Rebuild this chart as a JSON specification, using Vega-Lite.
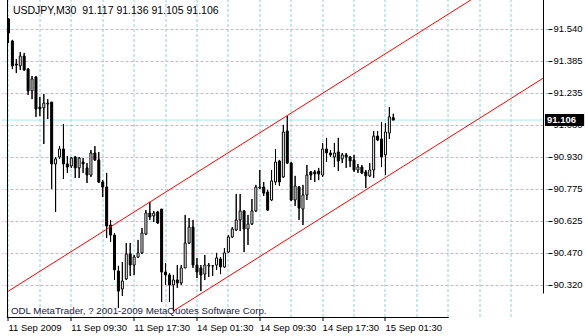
{
  "$schema": "https://vega.github.io/schema/vega-lite/v6.json",
  "width": 546,
  "height": 317,
  "autosize": {"type": "none"},
  "padding": {"left": 2, "top": 0, "right": 38, "bottom": 19},
  "background": "white",
  "config": {
    "view": {"stroke": null},
    "font": "Liberation Sans",
    "axis": {"labelFont": "Liberation Sans", "labelFontSize": 9.5, "labelColor": "#000000", "tickColor": "#000000", "domainColor": "#000000", "labelFontWeight": "normal"}
  },
  "datasets": {
    "bars": [
      {"i":0,"o":91.588,"h":91.592,"l":91.473,"c":91.521},
      {"i":1,"o":91.483,"h":91.488,"l":91.349,"c":91.364},
      {"i":2,"o":91.373,"h":91.397,"l":91.330,"c":91.368},
      {"i":3,"o":91.364,"h":91.430,"l":91.345,"c":91.411},
      {"i":4,"o":91.411,"h":91.426,"l":91.340,"c":91.345},
      {"i":5,"o":91.349,"h":91.354,"l":91.226,"c":91.245},
      {"i":6,"o":91.245,"h":91.316,"l":91.206,"c":91.302},
      {"i":7,"o":91.311,"h":91.316,"l":91.121,"c":91.159},
      {"i":8,"o":91.168,"h":91.216,"l":91.125,"c":91.159},
      {"i":9,"o":91.164,"h":91.230,"l":90.992,"c":91.187},
      {"i":10,"o":91.183,"h":91.206,"l":91.111,"c":91.187},
      {"i":11,"o":91.192,"h":91.192,"l":90.778,"c":90.897},
      {"i":12,"o":90.897,"h":90.930,"l":90.668,"c":90.921},
      {"i":13,"o":90.930,"h":90.982,"l":90.921,"c":90.968},
      {"i":14,"o":90.968,"h":91.087,"l":90.825,"c":90.897},
      {"i":15,"o":90.897,"h":90.935,"l":90.854,"c":90.882},
      {"i":16,"o":90.887,"h":90.930,"l":90.878,"c":90.925},
      {"i":17,"o":90.930,"h":90.935,"l":90.830,"c":90.878},
      {"i":18,"o":90.878,"h":90.930,"l":90.830,"c":90.925},
      {"i":19,"o":90.906,"h":90.925,"l":90.854,"c":90.897},
      {"i":20,"o":90.878,"h":90.901,"l":90.806,"c":90.844},
      {"i":21,"o":90.844,"h":90.963,"l":90.835,"c":90.949},
      {"i":22,"o":90.949,"h":90.982,"l":90.911,"c":90.916},
      {"i":23,"o":90.916,"h":90.954,"l":90.806,"c":90.811},
      {"i":24,"o":90.811,"h":90.820,"l":90.739,"c":90.787},
      {"i":25,"o":90.787,"h":90.854,"l":90.544,"c":90.601},
      {"i":26,"o":90.606,"h":90.630,"l":90.525,"c":90.558},
      {"i":27,"o":90.558,"h":90.568,"l":90.344,"c":90.392},
      {"i":28,"o":90.387,"h":90.411,"l":90.210,"c":90.291},
      {"i":29,"o":90.301,"h":90.430,"l":90.268,"c":90.339},
      {"i":30,"o":90.349,"h":90.520,"l":90.344,"c":90.468},
      {"i":31,"o":90.468,"h":90.520,"l":90.363,"c":90.415},
      {"i":32,"o":90.415,"h":90.463,"l":90.368,"c":90.453},
      {"i":33,"o":90.453,"h":90.535,"l":90.449,"c":90.473},
      {"i":34,"o":90.473,"h":90.592,"l":90.468,"c":90.568},
      {"i":35,"o":90.563,"h":90.677,"l":90.558,"c":90.663},
      {"i":36,"o":90.663,"h":90.716,"l":90.630,"c":90.644},
      {"i":37,"o":90.649,"h":90.673,"l":90.620,"c":90.663},
      {"i":38,"o":90.668,"h":90.673,"l":90.611,"c":90.616},
      {"i":39,"o":90.682,"h":90.682,"l":90.239,"c":90.382},
      {"i":40,"o":90.382,"h":90.425,"l":90.320,"c":90.368},
      {"i":41,"o":90.368,"h":90.377,"l":90.239,"c":90.320},
      {"i":42,"o":90.320,"h":90.368,"l":90.196,"c":90.344},
      {"i":43,"o":90.344,"h":90.415,"l":90.306,"c":90.330},
      {"i":44,"o":90.330,"h":90.415,"l":90.320,"c":90.401},
      {"i":45,"o":90.401,"h":90.654,"l":90.401,"c":90.520},
      {"i":46,"o":90.520,"h":90.639,"l":90.515,"c":90.596},
      {"i":47,"o":90.596,"h":90.630,"l":90.401,"c":90.415},
      {"i":48,"o":90.415,"h":90.449,"l":90.353,"c":90.382},
      {"i":49,"o":90.401,"h":90.415,"l":90.291,"c":90.368},
      {"i":50,"o":90.372,"h":90.463,"l":90.344,"c":90.415},
      {"i":51,"o":90.411,"h":90.425,"l":90.358,"c":90.415},
      {"i":52,"o":90.411,"h":90.415,"l":90.363,"c":90.411},
      {"i":53,"o":90.415,"h":90.473,"l":90.392,"c":90.449},
      {"i":54,"o":90.444,"h":90.453,"l":90.372,"c":90.406},
      {"i":55,"o":90.406,"h":90.496,"l":90.401,"c":90.473},
      {"i":56,"o":90.477,"h":90.558,"l":90.473,"c":90.549},
      {"i":57,"o":90.549,"h":90.596,"l":90.544,"c":90.587},
      {"i":58,"o":90.582,"h":90.754,"l":90.577,"c":90.630},
      {"i":59,"o":90.630,"h":90.754,"l":90.577,"c":90.673},
      {"i":60,"o":90.673,"h":90.677,"l":90.477,"c":90.587},
      {"i":61,"o":90.587,"h":90.654,"l":90.511,"c":90.611},
      {"i":62,"o":90.611,"h":90.730,"l":90.606,"c":90.673},
      {"i":63,"o":90.673,"h":90.797,"l":90.668,"c":90.787},
      {"i":64,"o":90.782,"h":90.868,"l":90.778,"c":90.787},
      {"i":65,"o":90.787,"h":90.811,"l":90.744,"c":90.758},
      {"i":66,"o":90.763,"h":90.773,"l":90.673,"c":90.677},
      {"i":67,"o":90.725,"h":90.868,"l":90.720,"c":90.816},
      {"i":68,"o":90.811,"h":90.968,"l":90.797,"c":90.906},
      {"i":69,"o":90.911,"h":90.916,"l":90.792,"c":90.811},
      {"i":70,"o":90.835,"h":91.083,"l":90.830,"c":91.049},
      {"i":71,"o":91.054,"h":91.125,"l":90.897,"c":90.901},
      {"i":72,"o":90.901,"h":90.906,"l":90.720,"c":90.725},
      {"i":73,"o":90.725,"h":90.840,"l":90.697,"c":90.792},
      {"i":74,"o":90.787,"h":90.792,"l":90.630,"c":90.687},
      {"i":75,"o":90.682,"h":90.797,"l":90.606,"c":90.749},
      {"i":76,"o":90.749,"h":90.892,"l":90.725,"c":90.844},
      {"i":77,"o":90.859,"h":90.863,"l":90.820,"c":90.844},
      {"i":78,"o":90.859,"h":90.868,"l":90.811,"c":90.849},
      {"i":79,"o":90.863,"h":90.878,"l":90.820,"c":90.849},
      {"i":80,"o":90.844,"h":90.997,"l":90.835,"c":90.968},
      {"i":81,"o":90.968,"h":91.021,"l":90.906,"c":90.949},
      {"i":82,"o":90.949,"h":90.963,"l":90.930,"c":90.940},
      {"i":83,"o":90.930,"h":90.997,"l":90.882,"c":90.949},
      {"i":84,"o":90.954,"h":91.021,"l":90.863,"c":90.911},
      {"i":85,"o":90.921,"h":90.949,"l":90.901,"c":90.940},
      {"i":86,"o":90.940,"h":90.949,"l":90.878,"c":90.930},
      {"i":87,"o":90.930,"h":90.935,"l":90.882,"c":90.911},
      {"i":88,"o":90.916,"h":90.940,"l":90.859,"c":90.868},
      {"i":89,"o":90.868,"h":90.897,"l":90.854,"c":90.882},
      {"i":90,"o":90.882,"h":90.892,"l":90.849,"c":90.854},
      {"i":91,"o":90.859,"h":90.868,"l":90.782,"c":90.840},
      {"i":92,"o":90.840,"h":90.901,"l":90.835,"c":90.868},
      {"i":93,"o":90.868,"h":91.054,"l":90.830,"c":91.030},
      {"i":94,"o":91.030,"h":91.054,"l":91.006,"c":91.011},
      {"i":95,"o":91.016,"h":91.097,"l":90.882,"c":90.930},
      {"i":96,"o":90.940,"h":91.092,"l":90.844,"c":91.049},
      {"i":97,"o":91.044,"h":91.168,"l":91.016,"c":91.121},
      {"i":98,"o":91.117,"h":91.136,"l":91.105,"c":91.106}
    ],
    "channel": [
      {"line":"upper","i":0,"p":90.291},
      {"line":"upper","i":136.125,"p":91.895},
      {"line":"lower","i":42,"p":90.196},
      {"line":"lower","i":136.125,"p":91.305}
    ],
    "one": [{}]
  },
  "layer": [
    {
      "data": {"name": "bars"},
      "mark": {"type": "rule", "color": "#000000", "strokeWidth": 1},
      "encoding": {
        "x": {"field": "i", "type": "quantitative",
              "scale": {"domain": [-0.375, 136.125], "nice": false, "zero": false},
              "axis": {"orient": "top", "grid": true, "values": [0,8,16,24,32,40,48,56,64,72,80,88,96,104,112,120,128],
                       "gridDash": [3,2], "gridColor": "#92d2d2", "gridOpacity": 1, "labels": false, "ticks": false, "domain": false, "title": null, "translate": 0}},
        "y": {"field": "l", "type": "quantitative",
              "scale": {"domain": [90.1675, 91.6782], "nice": false, "zero": false},
              "axis": {"orient": "right", "values": [90.32, 90.4725, 90.625, 90.7775, 90.93, 91.0825, 91.235, 91.3875, 91.54],
                       "labelExpr": "format(floor(datum.value*200+0.01)/200, '.3f')",
                       "grid": true, "gridDash": [3,2], "gridColor": "#92d2d2", "gridOpacity": 1,
                       "tickSize": 4, "labelPadding": 1, "labelAlign": "left", "labelBaseline": "middle", "title": null, "domain": false}},
        "y2": {"field": "h"}
      }
    },
    {
      "data": {"values": [{"price": 91.106}]},
      "mark": {"type": "rule", "color": "#a8e8ee", "strokeWidth": 1},
      "encoding": {
        "y": {"field": "price", "type": "quantitative", "axis": null}
      }
    },
    {
      "data": {"name": "bars"},
      "mark": {"type": "rule", "color": "#000000", "strokeWidth": 1},
      "encoding": {
        "x": {"field": "i", "type": "quantitative", "axis": null},
        "y": {"field": "l", "type": "quantitative", "axis": null},
        "y2": {"field": "h"}
      }
    },
    {
      "data": {"name": "bars"},
      "mark": {"type": "bar", "size": 2, "stroke": "#000000", "strokeWidth": 1},
      "encoding": {
        "x": {"field": "i", "type": "quantitative",
              "axis": {"orient": "bottom", "values": [0,16,32,48,64,80,96],
                       "labelExpr": "['11 Sep 2009','11 Sep 09:30','11 Sep 17:30','14 Sep 01:30','14 Sep 09:30','14 Sep 17:30','15 Sep 01:30'][round(datum.value/16)]",
                       "labelAlign": "left", "labelBaseline": "top", "labelPadding": 2, "tickSize": 4, "grid": false, "domain": false,
                       "labelFlush": false, "labelOverlap": false, "title": null, "translate": 0}},
        "y": {"field": "o", "type": "quantitative", "axis": null},
        "y2": {"field": "c"},
        "fill": {"condition": {"test": "datum.c < datum.o", "value": "#000000"}, "value": "#ffffff"}
      }
    },
    {
      "data": {"name": "channel"},
      "mark": {"type": "line", "color": "#ff0000", "strokeWidth": 1, "clip": true},
      "encoding": {
        "x": {"field": "i", "type": "quantitative", "axis": null},
        "y": {"field": "p", "type": "quantitative", "axis": null},
        "detail": {"field": "line"}
      }
    },
    {
      "data": {"name": "one"},
      "mark": {"type": "rule", "color": "#000000", "strokeWidth": 1},
      "encoding": {
        "x": {"datum": -0.25, "type": "quantitative", "axis": null}
      }
    },
    {
      "data": {"name": "one"},
      "mark": {"type": "rule", "color": "#000000", "strokeWidth": 1, "clip": false},
      "encoding": {
        "x": {"datum": 136.25, "type": "quantitative", "axis": null},
        "y": {"datum": 91.6782, "type": "quantitative", "axis": null},
        "y2": {"datum": 90.2795}
      }
    },
    {
      "data": {"name": "one"},
      "mark": {"type": "rule", "color": "#000000", "strokeWidth": 1, "clip": false},
      "encoding": {
        "x": {"datum": -0.375, "type": "quantitative", "axis": null},
        "x2": {"datum": 112.125},
        "y": {"datum": 90.1651, "type": "quantitative", "axis": null}
      }
    },
    {
      "data": {"name": "one"},
      "mark": {"type": "text", "align": "left", "baseline": "middle", "fontSize": 10.5, "color": "#000000", "font": "Liberation Sans"},
      "encoding": {
        "x": {"datum": 1.125, "type": "quantitative", "axis": null},
        "y": {"datum": 91.626, "type": "quantitative", "axis": null},
        "text": {"value": "USDJPY,M30\u00a0\u00a091.117 91.136 91.105 91.106"}
      }
    },
    {
      "data": {"name": "one"},
      "mark": {"type": "text", "align": "left", "baseline": "middle", "fontSize": 9.75, "color": "#1a1a40", "font": "Liberation Sans"},
      "encoding": {
        "x": {"datum": 0.625, "type": "quantitative", "axis": null},
        "y": {"datum": 90.1975, "type": "quantitative", "axis": null},
        "text": {"value": "ODL MetaTrader, ? 2001-2009 MetaQuotes Software Corp."}
      }
    },
    {
      "data": {"name": "one"},
      "mark": {"type": "rect", "color": "#000000", "clip": false},
      "encoding": {
        "x": {"datum": 136.625, "type": "quantitative", "axis": null},
        "x2": {"datum": 146.6},
        "y": {"datum": 91.1346, "type": "quantitative", "axis": null},
        "y2": {"datum": 91.0774}
      }
    },
    {
      "data": {"name": "one"},
      "mark": {"type": "text", "align": "left", "baseline": "middle", "fontSize": 9.5, "fontWeight": "bold", "color": "#ffffff", "font": "Liberation Sans", "clip": false},
      "encoding": {
        "x": {"datum": 137.125, "type": "quantitative", "axis": null},
        "y": {"datum": 91.106, "type": "quantitative", "axis": null},
        "text": {"value": "91.106"}
      }
    }
  ],
  "resolve": {"axis": {"x": "independent", "y": "independent"}}
}
